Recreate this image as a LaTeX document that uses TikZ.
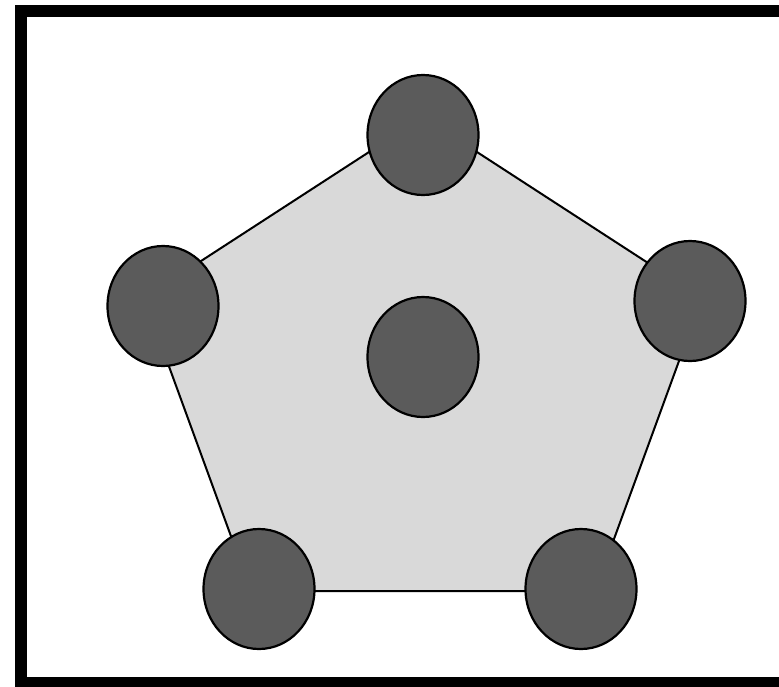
\documentclass[tikz,border=0pt]{standalone}
\usetikzlibrary{shapes.geometric}
\definecolor{sitegray}{gray}{0.355}
\definecolor{cellgray}{gray}{0.85}
\tikzset{site/.style = {ellipse, draw, line width=2.2pt, fill=sitegray,
    minimum width=111pt, minimum height=120pt, inner sep=0pt}}

\begin{document}
\begin{tikzpicture}[x=1pt, y=-1pt]
      \useasboundingbox (0,0) rectangle (779,686);
      \draw[line width=12pt] (21,11) rectangle (791,683);
      % corners of the cell
      \coordinate (c1) at (423,117);
      \coordinate (c2) at (702,298);
      \coordinate (c3) at (595,591);
      \coordinate (c4) at (251,591);
      \coordinate (c5) at (144,298);
      \draw[fill=cellgray, line width=2pt, line join=round]
        (c1) -- (c2) -- (c3) -- (c4) -- (c5) -- cycle;
      % sites
      \node[site] (s1) at (423,135) {};
      \node[site] (s2) at (690,301) {};
      \node[site] (s3) at (581,589) {};
      \node[site] (s4) at (259,589) {};
      \node[site] (s5) at (163,306) {};
      \node[site] (s0) at (423,357) {};
\end{tikzpicture}
\end{document}
